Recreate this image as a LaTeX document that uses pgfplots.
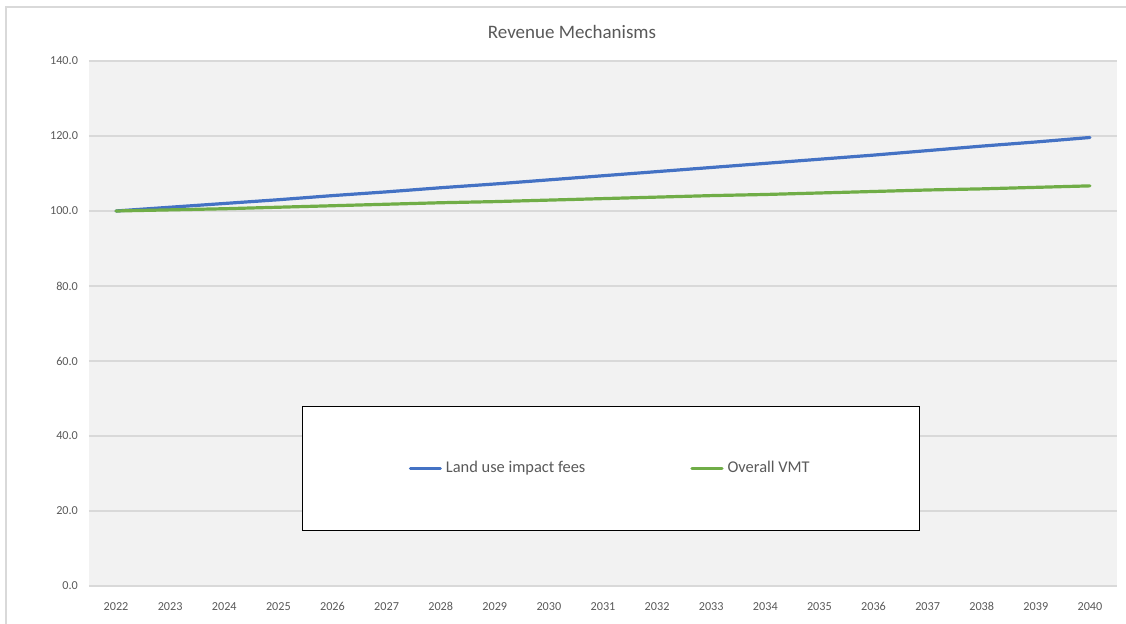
\documentclass[border=0pt]{standalone}
\usepackage{pgfplots}
\pgfplotsset{compat=1.18}
\usepackage{fontspec}
\setmainfont{Carlito}
\definecolor{txtgray}{HTML}{595959}
\definecolor{gridgray}{HTML}{D9D9D9}
\definecolor{plotbg}{HTML}{F2F2F2}
\definecolor{xlblue}{HTML}{4472C4}
\definecolor{xlgreen}{HTML}{70AD47}
\begin{document}
\begin{tikzpicture}
\path[use as bounding box] (0pt,0pt) rectangle (563pt,312pt);
\draw[gridgray,line width=0.6pt] (3pt,0pt) -- (3pt,308.5pt) -- (563pt,308.5pt);
\node[text=txtgray,font=\fontsize{9.5pt}{11pt}\selectfont] at (286pt,296pt) {Revenue Mechanisms};
\begin{axis}[
  at={(44.5pt,19pt)}, anchor=south west,
  scale only axis, width=514pt, height=262.5pt,
  xmin=-0.5, xmax=18.5, ymin=0, ymax=140,
  axis background/.style={fill=plotbg},
  axis line style={draw=none},
  major tick length=0pt,
  ymajorgrids, grid style={gridgray,line width=0.6pt},
  ytick={0,20,...,140},
  /pgf/number format/assume math mode=true,
  yticklabel style={/pgf/number format/fixed,/pgf/number format/fixed zerofill,/pgf/number format/precision=1,xshift=-2pt},
  xtick={0,...,18},
  xticklabels={2022,2023,2024,2025,2026,2027,2028,2029,2030,2031,2032,2033,2034,2035,2036,2037,2038,2039,2040},
  ticklabel style={text=txtgray,font=\fontsize{6.1pt}{7pt}\selectfont},
  xticklabel style={yshift=-4pt, text height=4.5pt, text depth=0pt},
  legend columns=2,
  legend style={at={(0.508,0.224)}, anchor=center, draw=black, line width=0.6pt, fill=white,
    inner xsep=53pt, inner ysep=25.5pt, font=\fontsize{8.2pt}{9.5pt}\selectfont, text=txtgray,
    /tikz/every even column/.append style={column sep=50.5pt}},
  legend image code/.code={\draw[#1,line width=1.6pt] (0pt,0pt) -- (15pt,0pt);},
  legend cell align=left,
]
\addplot[xlblue, line width=1.6pt, line cap=round] coordinates {
(0,100.0) (1,101.0) (2,102.0) (3,103.0) (4,104.1) (5,105.1) (6,106.2) (7,107.2) (8,108.3) (9,109.4)
(10,110.5) (11,111.6) (12,112.7) (13,113.8) (14,114.9) (15,116.1) (16,117.3) (17,118.4) (18,119.6)};
\addlegendentry{Land use impact fees}
\addplot[xlgreen, line width=1.6pt, line cap=round] coordinates {
(0,100.0) (1,100.3) (2,100.6) (3,101.0) (4,101.4) (5,101.8) (6,102.2) (7,102.5) (8,102.9) (9,103.3)
(10,103.7) (11,104.1) (12,104.4) (13,104.8) (14,105.2) (15,105.6) (16,105.9) (17,106.3) (18,106.7)};
\addlegendentry{Overall VMT}
\end{axis}
\end{tikzpicture}
\end{document}
